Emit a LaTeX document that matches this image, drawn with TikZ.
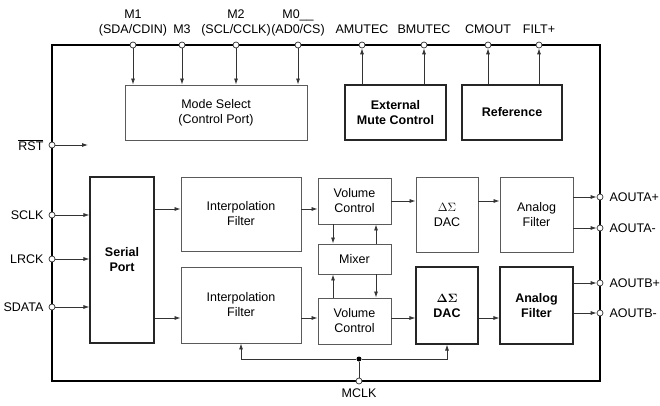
\documentclass[tikz,border=0pt]{standalone}
\usepackage[no-math]{fontspec}
\setmainfont{Liberation Sans}
\usetikzlibrary{arrows.meta,positioning}

\definecolor{boxgray}{HTML}{5A5A5A}
\definecolor{wiregray}{HTML}{333333}
\newcommand{\txt}{\fontsize{12.5}{15}\selectfont}

\tikzstyle{block}=[draw=boxgray, line width=0.9pt, align=center, inner sep=0pt]
\tikzstyle{bblock}=[block, draw=black!85, line width=1.1pt, font=\txt\bfseries]
\tikzstyle{term}=[draw=wiregray, fill=white, circle, inner sep=0pt, minimum size=6pt, line width=0.7pt]
\tikzstyle{plabel}=[inner sep=1pt, align=center, text depth=0pt]
\tikzstyle{sig}=[draw=wiregray, line width=0.8pt, -{Latex[length=6pt,width=4pt]}]
\tikzstyle{wire}=[draw=wiregray, line width=0.8pt]

\begin{document}
\begin{tikzpicture}[x=1pt, y=-1pt, font=\txt]
\useasboundingbox (0,0) rectangle (660,406);
% chip outline
\draw (326,213) node[draw, line width=2.2pt, minimum width=548pt, minimum height=336pt] (chip) {};
%
\draw (216,112.5) node[block, minimum width=182pt, minimum height=55pt] (mode)
  {Mode Select\\(Control Port)};
\draw (395.5,112.5) node[bblock, minimum width=101pt, minimum height=55pt] (ext)
  {External\\Mute Control};
\draw (512,112.5) node[bblock, minimum width=100pt, minimum height=55pt] (ref)
  {Reference};
%
\draw (122,260) node[bblock, minimum width=64pt, minimum height=166pt] (serial)
  {Serial\\Port};
\draw (241,214) node[block, minimum width=120pt, minimum height=74pt] (interpA)
  {Interpolation\\Filter};
\draw (241,305) node[block, minimum width=120pt, minimum height=76pt] (interpB)
  {Interpolation\\Filter};
\draw (354.5,201) node[block, minimum width=73pt, minimum height=46pt] (volA)
  {Volume\\Control};
\draw (354.5,259) node[block, minimum width=73pt, minimum height=30pt] (mixer)
  {Mixer};
\draw (354.5,321) node[block, minimum width=73pt, minimum height=46pt] (volB)
  {Volume\\Control};
\draw (447,214.5) node[block, minimum width=62pt, minimum height=75pt] (dacA)
  {$\Delta\Sigma$\\DAC};
\draw (447,305.5) node[bblock, minimum width=62pt, minimum height=77pt] (dacB)
  {$\mathbf{\Delta\Sigma}$\\DAC};
\draw (536.5,214.5) node[block, minimum width=73pt, minimum height=75pt] (anaA)
  {Analog\\Filter};
\draw (536.5,305.5) node[bblock, minimum width=73pt, minimum height=77pt] (anaB)
  {Analog\\Filter};
%
% pins on the top edge
\draw (133,45) node[term] (m1) {};
\draw (182,45) node[term] (m3) {};
\draw (236,45) node[term] (m2) {};
\draw (298,45) node[term] (m0) {};
\draw (362,45) node[term] (amute) {};
\draw (424,45) node[term] (bmute) {};
\draw (488,45) node[term] (cmout) {};
\draw (539,45) node[term] (filt) {};
\node[plabel, above=7pt of m1] (m1l) {M1\\(SDA/CDIN)};
\node[plabel, above=7pt of m3] (m3l) {M3};
\node[plabel, above=7pt of m2] (m2l) {M2\\(SCL/CCLK)};
\node[plabel, above=7pt of m0] (m0l) {M0\_\_\\(AD0/CS)};
\node[plabel, above=7pt of amute] (amutel) {AMUTEC};
\node[plabel, above=7pt of bmute] (bmutel) {BMUTEC};
\node[plabel, above=7pt of cmout] (cmoutl) {CMOUT};
\node[plabel, above=7pt of filt] (filtl) {FILT+};
% pins on the left edge
\draw (52,145) node[term] (rst) {};
\draw (52,215) node[term] (sclk) {};
\draw (52,259) node[term] (lrck) {};
\draw (52,307) node[term] (sdata) {};
\node[plabel, left=4pt of rst] (rstl) {$\overline{\hbox{RST}}$};
\node[plabel, left=4pt of sclk] (sclkl) {SCLK};
\node[plabel, left=4pt of lrck] (lrckl) {LRCK};
\node[plabel, left=4pt of sdata] (sdatal) {SDATA};
% pins on the right edge
\draw (600,197) node[term] (aoutap) {};
\draw (600,228) node[term] (aoutam) {};
\draw (600,283) node[term] (aoutbp) {};
\draw (600,313) node[term] (aoutbm) {};
\node[plabel, right=5pt of aoutap] (aoutapl) {AOUTA+};
\node[plabel, right=5pt of aoutam] (aoutaml) {AOUTA-};
\node[plabel, right=5pt of aoutbp] (aoutbpl) {AOUTB+};
\node[plabel, right=5pt of aoutbm] (aoutbml) {AOUTB-};
% clock pin
\draw (359,381) node[term] (mclk) {};
\node[plabel, below=3pt of mclk] (mclkl) {MCLK};
\draw (359,359) node[circle, fill=black, inner sep=0pt, minimum size=5pt] (clk) {};
%
% control connections
\foreach \p in {m1,m3,m2,m0} \draw[sig] (\p) -- (\p |- mode.north);
\foreach \p in {amute,bmute} \draw[sig] (\p |- ext.north) -- (\p);
\foreach \p in {cmout,filt} \draw[sig] (\p |- ref.north) -- (\p);
\coordinate (rstend) at (88,145);
\draw[sig] (rst) -- (rstend);
\foreach \p in {sclk,lrck,sdata} \draw[sig] (\p) -- (\p -| serial.west);
%
% channel A
\coordinate (a1) at ([yshift=5pt]interpA.west);
\draw[sig] (a1 -| serial.east) -- (a1);
\draw[sig] (a1 -| interpA.east) -- (a1 -| volA.west);
\draw[sig] (volA.east) -- (volA.east -| dacA.west);
\draw[sig] (volA.east -| dacA.east) -- (volA.east -| anaA.west);
\draw[sig] (aoutap -| anaA.east) -- (aoutap);
\draw[sig] (aoutam -| anaA.east) -- (aoutam);
% channel B
\coordinate (b1) at ([yshift=3pt]volB.west);
\draw[sig] (b1 -| serial.east) -- (b1 -| interpB.west);
\draw[sig] (b1 -| interpB.east) -- (b1);
\draw[sig] (b1 -| volB.east) -- (b1 -| dacB.west);
\draw[sig] (b1 -| dacB.east) -- (b1 -| anaB.west);
\draw[sig] (aoutbp -| anaB.east) -- (aoutbp);
\draw[sig] (aoutbm -| anaB.east) -- (aoutbm);
% mixer
\coordinate (mxl) at ([xshift=-21.5pt]mixer.center);
\coordinate (mxr) at ([xshift=21.5pt]mixer.center);
\draw[sig] (mxl |- volA.south) -- (mxl |- mixer.north);
\draw[sig] (mxl |- volB.north) -- (mxl |- mixer.south);
\draw[sig] (mxr |- mixer.north) -- (mxr |- volA.south);
\draw[sig] (mxr |- mixer.south) -- (mxr |- volB.north);
% master clock
\draw[wire] (mclk) -- (clk);
\draw[sig] (clk) -| (interpB.south);
\draw[sig] (clk) -| (dacB.south);
\end{tikzpicture}
\end{document}
